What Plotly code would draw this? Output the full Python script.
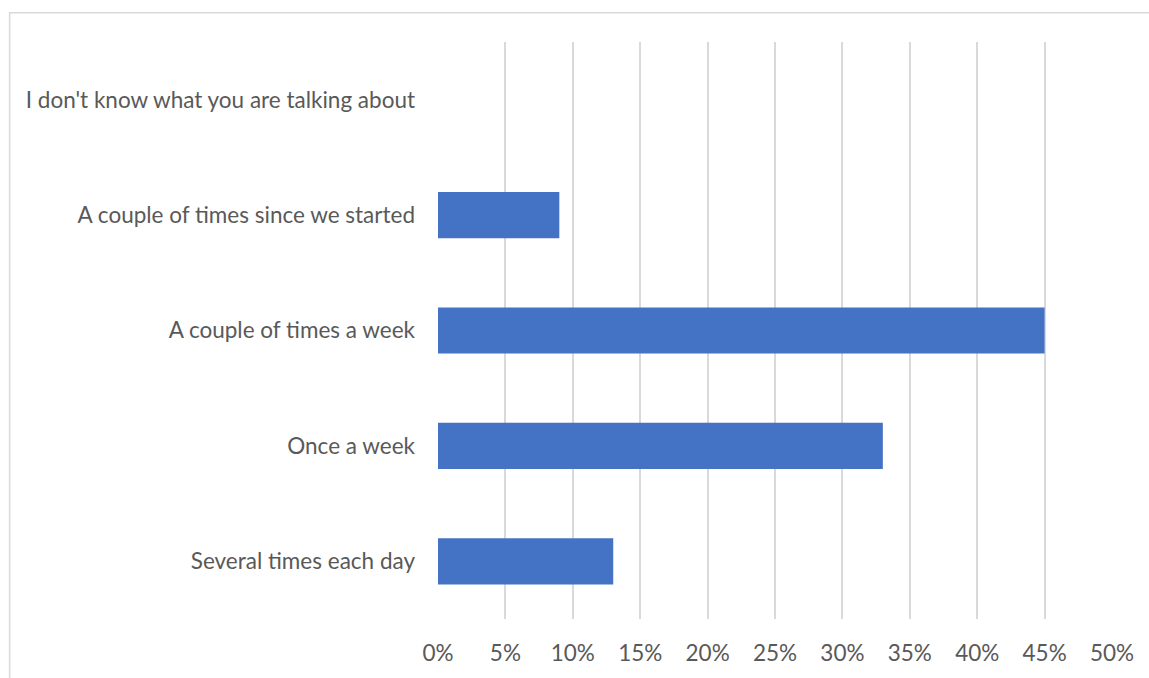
import plotly.graph_objects as go

# Survey responses, listed top to bottom as they appear on the chart
categories = [
    "I don't know what you are talking about",
    "A couple of times since we started",
    "A couple of times a week",
    "Once a week",
    "Several times each day",
]
shares = [0, 9, 45, 33, 13]  # percent of respondents
tick_values = [0, 5, 10, 15, 20, 25, 30, 35, 40, 45, 50]

W, H = 1149, 678
L, R, T, B = 437.5, 36.5, 42, 56
pw, ph = W - L - R, H - T - B

text_color = "#595959"
grid_color = "#D9D9D9"
font_size = 22.5

fig = go.Figure(
    go.Bar(
        x=shares,
        y=categories,
        orientation="h",
        marker=dict(color="#4472C4", line=dict(width=0)),
        hoverinfo="x+y",
    )
)

def px_x(p):
    return (p - L) / pw

def px_y(p):
    return (H - B - p) / ph

# Light frame around the chart area (top and left edges)
fig.add_shape(type="line", xref="paper", yref="paper",
              x0=px_x(8), x1=px_x(W + 5), y0=px_y(12.5), y1=px_y(12.5),
              line=dict(color=grid_color, width=1.5))
fig.add_shape(type="line", xref="paper", yref="paper",
              x0=px_x(8.5), x1=px_x(8.5), y0=px_y(12), y1=px_y(H + 5),
              line=dict(color=grid_color, width=1.5))

fig.update_layout(
    width=W,
    height=H,
    margin=dict(l=L, r=R, t=T, b=B, pad=0),
    paper_bgcolor="white",
    plot_bgcolor="white",
    bargap=0.6,
    showlegend=False,
    font=dict(family="Lato, 'Open Sans', sans-serif", size=font_size, color=text_color),
)
fig.update_xaxes(
    range=[0, 50],
    tickvals=tick_values,
    ticktext=[f"{v}%" for v in tick_values],
    showgrid=True,
    gridcolor=grid_color,
    gridwidth=1.5,
    zeroline=False,
    showline=False,
    ticks="",
    ticklabelstandoff=18,
    tickfont=dict(size=font_size, color=text_color),
    fixedrange=True,
)
fig.update_yaxes(
    autorange="reversed",
    showgrid=False,
    zeroline=False,
    showline=False,
    ticks="",
    ticklabelstandoff=22,
    tickfont=dict(size=font_size, color=text_color),
    fixedrange=True,
)

fig.write_html("out.html")
